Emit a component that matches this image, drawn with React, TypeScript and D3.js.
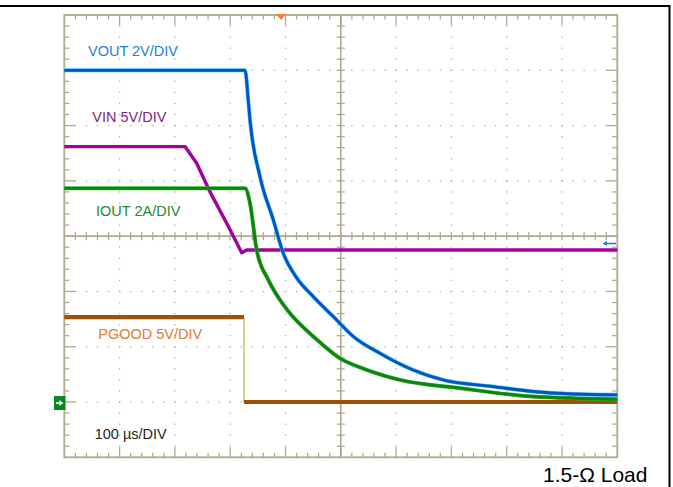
import React from "react";
import * as d3 from "d3";

// ---- data (time in µs, values in channel units) ----
const VOUT_T = [0, 326.8, 332.7, 335.8, 353.9, 377.9, 396, 420.3, 450.3, 486.4, 522.6, 570.9, 630.6, 684.8, 775.2, 847.5, 919.9, 1000];
const VOUT_V = [12.0, 12.0, 10.9, 10.2, 8.15, 6.59, 5.38, 4.49, 3.81, 3.09, 2.37, 1.76, 1.16, 0.8, 0.56, 0.38, 0.29, 0.26];

const VIN_T = [0, 218.3, 239.4, 263.5, 299.6, 320.8, 329.8, 1000];
const VIN_V = [23.1, 23.1, 21.6, 19.0, 15.6, 13.5, 13.75, 13.75];

const IOUT_T = [0, 326.8, 335.8, 347.9, 368.9, 390.1, 408.1, 450.3, 498.6, 542, 607, 715.5, 847.5, 1000];
const IOUT_V = [7.73, 7.73, 7.19, 5.5, 4.42, 3.69, 3.21, 2.37, 1.58, 1.2, 0.8, 0.5, 0.2, 0.1];

const PGOOD_T = [0, 324.9, 1000];
const PGOOD_V = [7.67, 0, 0];

const LABELS = ["VOUT 2V/DIV", "VIN 5V/DIV", "IOUT 2A/DIV", "PGOOD 5V/DIV"];
const TIMEBASE = "100 µs/DIV";
const NOTE = "1.5-Ω Load";
const TRIGGER_T = 392;

const W = 673, H = 487;
const X0 = 64.3, X1 = 617.3, Y0 = 15, Y1 = 457.3;
const GRID = "#b1a98f";

const x = d3.scaleLinear().domain([0, 1000]).range([X0, X1]);
const gx = d3.scaleLinear().domain([0, 10]).range([X0, X1]);
const gy = d3.scaleLinear().domain([0, 8]).range([Y0, Y1]);
const chY = (perDiv: number) => d3.scaleLinear().domain([-perDiv, 7 * perDiv]).range([Y1, Y0]);
const yV = chY(2), yVin = chY(5), yI = chY(2), yPG = chY(5);

function pts(t: number[], v: number[]): [number, number][] {
  return t.map((d, i) => [d, v[i]]);
}

export default function App() {
  const lineMono = (ys: d3.ScaleLinear<number, number>) =>
    d3.line<[number, number]>().x(d => x(d[0])).y(d => ys(d[1])).curve(d3.curveMonotoneX);
  const lineLin = (ys: d3.ScaleLinear<number, number>) =>
    d3.line<[number, number]>().x(d => x(d[0])).y(d => ys(d[1]));

  const minorX = d3.range(1, 50);
  const minorY = d3.range(1, 40);
  const dots: JSX.Element[] = [];
  for (let i = 1; i < 10; i++) {
    if (i === 5) continue;
    for (let j = 1; j < 40; j++) {
      dots.push(<rect key={`v${i}-${j}`} x={gx(i) - 0.6} y={gy(j / 5) - 0.6} width={1.3} height={1.3} fill="#ababab" />);
    }
  }
  for (let i = 1; i < 8; i++) {
    if (i === 4) continue;
    for (let j = 1; j < 50; j++) {
      dots.push(<rect key={`h${i}-${j}`} x={gx(j / 5) - 0.6} y={gy(i) - 0.6} width={1.3} height={1.3} fill="#ababab" />);
    }
  }

  const ticks: JSX.Element[] = [];
  minorX.forEach(k => {
    const major = k % 5 === 0;
    const px = gx(k / 5);
    const len = major ? 10 : 4.5;
    ticks.push(<line key={`tt${k}`} x1={px} x2={px} y1={Y0} y2={Y0 + len} />);
    ticks.push(<line key={`tb${k}`} x1={px} x2={px} y1={Y1} y2={Y1 - len} />);
    ticks.push(<line key={`tc${k}`} x1={px} x2={px} y1={gy(4) - 4} y2={gy(4) + 4} />);
  });
  minorY.forEach(k => {
    const major = k % 5 === 0;
    const py = gy(k / 5);
    const len = major ? 11 : 5;
    ticks.push(<line key={`tl${k}`} y1={py} y2={py} x1={X0} x2={X0 + len} />);
    ticks.push(<line key={`tr${k}`} y1={py} y2={py} x1={X1} x2={X1 - len} />);
    ticks.push(<line key={`tm${k}`} y1={py} y2={py} x1={gx(5) - 4} x2={gx(5) + 4} />);
  });

  const font = "'Liberation Sans', Arial, sans-serif";
  const pgHigh = yPG(PGOOD_V[0]);
  const pgLow = yPG(PGOOD_V[1]);
  const tx = x(TRIGGER_T);

  return (
    <svg width={W} height={H} style={{ position: "absolute", left: 0, top: 0, background: "#fff" }}>
      <rect x={0} y={0} width={W} height={H} fill="#fff" />
      <line x1={0} x2={670} y1={6} y2={6} stroke="#000" strokeWidth={2} />
      <line x1={669.5} x2={669.5} y1={5} y2={H} stroke="#000" strokeWidth={2} />

      <g>{dots}</g>
      <g stroke={GRID} strokeWidth={1.3}>
        {ticks}
        <line x1={gx(5)} x2={gx(5)} y1={Y0} y2={Y1} strokeWidth={1.6} />
        <line x1={X0} x2={X1} y1={gy(4)} y2={gy(4)} strokeWidth={1.6} />
        <rect x={X0} y={Y0} width={X1 - X0} height={Y1 - Y0} fill="none" strokeWidth={1.8} />
      </g>

      {/* PGOOD */}
      <line x1={x(PGOOD_T[1])} x2={x(PGOOD_T[1])} y1={pgHigh} y2={pgLow} stroke="#c9c06a" strokeWidth={1.5} />
      <path d={lineLin(yPG)([[PGOOD_T[0], PGOOD_V[0]], [PGOOD_T[1], PGOOD_V[0]]]) || ""} fill="none" stroke="#a14f04" strokeWidth={4.2} />
      <path d={lineLin(yPG)([[PGOOD_T[1], PGOOD_V[1]], [PGOOD_T[2], PGOOD_V[2]]]) || ""} fill="none" stroke="#a14f04" strokeWidth={4.2} />

      {/* VIN */}
      <path d={lineLin(yVin)(pts(VIN_T, VIN_V)) || ""} fill="none" stroke="#a3009f" strokeWidth={3.4} strokeLinejoin="round" />

      {/* IOUT */}
      <path d={lineMono(yI)(pts(IOUT_T, IOUT_V)) || ""} fill="none" stroke="#3fae3f" strokeWidth={4} strokeLinejoin="round" />
      <path d={lineMono(yI)(pts(IOUT_T, IOUT_V)) || ""} fill="none" stroke="#0e840e" strokeWidth={2.8} strokeLinejoin="round" />

      {/* VOUT */}
      <path d={lineMono(yV)(pts(VOUT_T, VOUT_V)) || ""} fill="none" stroke="#3ec6e6" strokeWidth={4} strokeLinejoin="round" />
      <path d={lineMono(yV)(pts(VOUT_T, VOUT_V)) || ""} fill="none" stroke="#0552c4" strokeWidth={2.8} strokeLinejoin="round" />

      {/* markers */}
      <path d={`M${tx - 5},${Y0 - 1} L${tx + 5},${Y0 - 1} L${tx},${Y0 + 5} Z`} fill="#ff7a2a" />
      <g>
        <rect x={54} y={396} width={11.5} height={14} fill="#0a8a1a" />
        <line x1={56} x2={62.5} y1={403} y2={403} stroke="#fff" strokeWidth={1.6} />
        <path d="M59.5,400 L63,403 L59.5,406 Z" fill="#fff" />
      </g>
      <g>
        <line x1={606} x2={616} y1={243.5} y2={243.5} stroke="#2f6fd0" strokeWidth={1.5} />
        <path d="M602.5,243.5 L607,241 L607,246 Z" fill="#2f6fd0" />
      </g>

      <g fontFamily={font} fontSize={14.5}>
        <text x={88} y={55.5} fill="#2582d2">{LABELS[0]}</text>
        <text x={92.3} y={121.7} fill="#7f1f84">{LABELS[1]}</text>
        <text x={96} y={216} fill="#248a2a">{LABELS[2]}</text>
        <text x={98.3} y={339.3} fill="#e07a32">{LABELS[3]}</text>
        <text x={94.7} y={439.3} fill="#1e1e1e">{TIMEBASE}</text>
      </g>
      <text x={543} y={481.7} fontFamily={font} fontSize={21} fill="#000">{NOTE}</text>
    </svg>
  );
}
